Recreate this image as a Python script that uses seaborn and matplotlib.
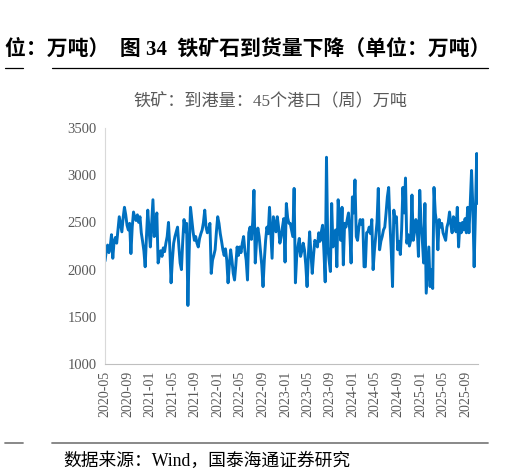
import numpy as np
import pandas as pd
import matplotlib
matplotlib.use("Agg")
import matplotlib.pyplot as plt
import matplotlib.dates as mdates
from matplotlib.lines import Line2D
import seaborn as sns

# weekly arrivals, 45 ports, 10k tonnes
start_date = "2020-05-01"
arrivals = [
    2090, 2200, 2260, 2180, 2240, 2370, 2120, 2300, 2340, 2280,
    2420, 2560, 2480, 2400, 2550, 2660, 2580, 2470, 2420, 2490,
    2170, 2450, 2610, 2550, 2520, 2580, 2500, 2560, 2390, 2300,
    2200, 2030, 2350, 2630, 2420, 2240, 2500, 2740, 2350, 2450,
    2600, 2070, 2150, 2200, 2140, 2230, 2190, 2280, 2350, 2500,
    2240, 1860, 2100, 2280, 2350, 2400, 2450, 2250, 2070, 2000,
    2300, 2530, 2400, 2490, 1620, 2200, 2660, 2530, 2400, 2310,
    2350, 2280, 2240, 2330, 2380, 2420, 2500, 2630, 2450, 2390,
    2430, 2490, 1960, 2100, 2150, 2210, 2400, 2560, 2490, 2380,
    2300, 2210, 2150, 2220, 2100, 1860, 2050, 2210, 2100, 1960,
    1890, 2050, 2240, 2150, 2240, 2180, 2280, 2350, 2200, 2100,
    1890, 2390, 2450, 2320, 2500, 2840, 2070, 2300, 2440, 2350,
    2200, 2050, 1820, 2100, 2310, 2450, 2380, 2660, 2400, 2120,
    2560, 2480, 2400, 2560, 2450, 2280, 2350, 2450, 2540, 2080,
    2700, 2550, 2490, 2490, 2420, 2350, 2860, 1860, 2140, 2250,
    2330, 2140, 2200, 2280, 2210, 2050, 1820, 2150, 2400, 2170,
    1960, 2150, 2310, 2280, 2240, 2390, 2300, 2400, 2470, 2200,
    1870, 3190, 2240, 2100, 1980, 2700, 2240, 2350, 2420, 2030,
    2740, 2500, 2310, 2660, 2050, 2490, 2450, 2530, 2600, 2400,
    2070, 2770, 2600, 2950, 2350, 2310, 2450, 2530, 2480, 2530,
    2030, 2030, 2390, 2400, 2450, 2380, 2530, 2000, 2200, 2350,
    2500, 2860, 2210, 2300, 2350, 2420, 2450, 2600, 2770, 2870,
    2490, 2200, 1820, 2630, 2500, 2560, 2210, 2300, 2160, 2420,
    2870, 2600, 2970, 2280, 2370, 2250, 2310, 2790, 2310, 2400,
    2530, 2450, 2140, 2840, 2500, 2310, 2070, 2700, 1750, 2000,
    2240, 1820, 2000, 1800, 2870, 2600, 2490, 2210, 2530, 2450,
    2490, 2390, 2350, 2310, 2450, 2500, 2610, 2480, 2390, 2560,
    2530, 2400, 2660, 2240, 2490, 2390, 2500, 2420, 2540, 2390,
    2660, 2390, 2700, 3050, 2660, 2030, 2600, 3230, 2700,
]
y_ticks = [1000, 1500, 2000, 2500, 3000, 3500]

df = pd.DataFrame({
    "date": pd.date_range(start_date, periods=len(arrivals), freq="7D"),
    "value": arrivals,
})

sns.set_style("white")
fonts = ["Liberation Serif", "Noto Sans CJK SC", "DejaVu Sans"]
plt.rcParams["font.family"] = fonts
plt.rcParams["axes.unicode_minus"] = False

fig = plt.figure(figsize=(5.23, 4.74), dpi=100)
ax = fig.add_axes([0.2008, 0.232, 0.7132, 0.498])

sns.lineplot(data=df, x="date", y="value", ax=ax, color="#0070C0", linewidth=2.1)

ax.set_xlim(df["date"].iloc[0], df["date"].iloc[-1])
ax.set_ylim(1000, 3500)
ax.set_yticks(y_ticks)
ax.set_xlabel("")
ax.set_ylabel("")

ax.xaxis.set_major_locator(mdates.MonthLocator(bymonth=[1, 5, 9]))
ax.xaxis.set_major_formatter(mdates.DateFormatter("%Y-%m"))
ax.tick_params(axis="x", rotation=90, labelsize=10, colors="#595959",
               length=3, width=0.8, direction="out", pad=2)
ax.tick_params(axis="y", labelsize=10.5, colors="#595959",
               length=3, width=0.8, direction="out", pad=3)
ax.tick_params(axis="both", color="#bfbfbf")

for side in ["top", "right"]:
    ax.spines[side].set_visible(False)
ax.spines["left"].set_color("#d9d9d9")
ax.spines["bottom"].set_color("#bfbfbf")
ax.spines["left"].set_linewidth(0.8)
ax.spines["bottom"].set_linewidth(0.8)

# chart titles
fig.text(5 / 523, 1 - 50 / 474, "位：万吨）  图 34  铁矿石到货量下降（单位：万吨）",
         fontsize=15, fontweight="bold", ha="left", va="center", color="black")
fig.text(270 / 523, 1 - 101 / 474, "铁矿：到港量：45个港口（周）万吨",
         fontsize=12.3, ha="center", va="center", color="#595959")

# rules above and below the chart
fig.add_artist(Line2D([5 / 523, 23 / 523], [1 - 68 / 474] * 2,
                      transform=fig.transFigure, color="black", lw=0.9))
fig.add_artist(Line2D([52 / 523, 488 / 523], [1 - 68 / 474] * 2,
                      transform=fig.transFigure, color="black", lw=0.9))
fig.add_artist(Line2D([5 / 523, 23 / 523], [1 - 443 / 474] * 2,
                      transform=fig.transFigure, color="#7f7f7f", lw=1.3))
fig.add_artist(Line2D([52 / 523, 488 / 523], [1 - 443 / 474] * 2,
                      transform=fig.transFigure, color="#7f7f7f", lw=1.3))

fig.text(63 / 523, 1 - 461 / 474, "数据来源：Wind，国泰海通证券研究",
         fontsize=12.8, ha="left", va="center", color="black")

fig.savefig("out.png", dpi=100)
